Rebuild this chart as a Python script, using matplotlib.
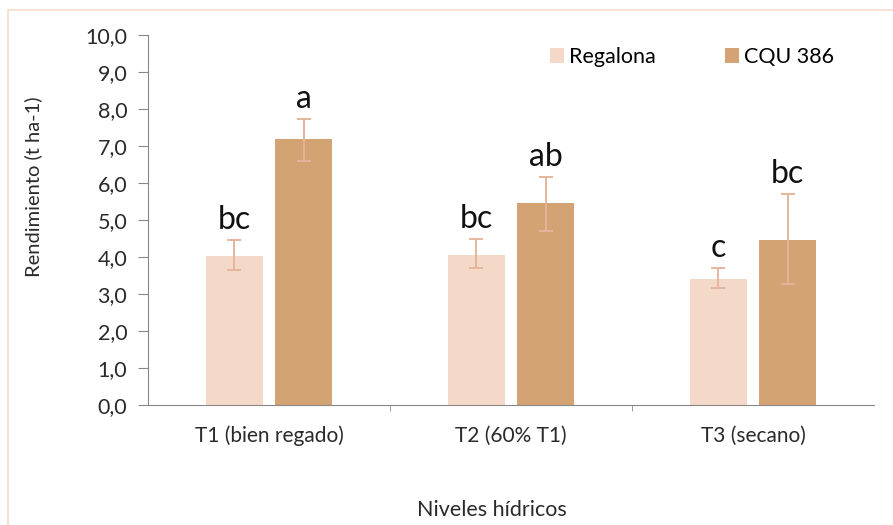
import numpy as np
import matplotlib.pyplot as plt
from matplotlib.patches import Rectangle

plt.rcParams['font.family'] = ['Lato', 'DejaVu Sans']

categorias = ['T1 (bien regado)', 'T2 (60% T1)', 'T3 (secano)']
regalona = [4.03, 4.05, 3.40]
regalona_err_sup = [0.43, 0.44, 0.30]
regalona_err_inf = [0.38, 0.35, 0.24]
cqu = [7.20, 5.46, 4.46]
cqu_err_sup = [0.53, 0.70, 1.24]
cqu_err_inf = [0.60, 0.76, 1.19]
letras_regalona = ['bc', 'bc', 'c']
letras_cqu = ['a', 'ab', 'bc']

col_reg = '#f5d9c8'
col_cqu = '#d4a373'
col_err = '#e6b49c'
col_txt = '#2a2a2a'

fig = plt.figure(figsize=(8.93, 5.25), dpi=100)
fig.patches.append(Rectangle((8 / 893, -0.1), 1.2, 1 - 10 / 525 + 0.1, transform=fig.transFigure,
                             fill=False, edgecolor='#f3dccb', linewidth=1.2))
ax = fig.add_axes([148 / 893, 1 - 405 / 525, 726 / 893, 370 / 525])

x = np.arange(len(categorias))
ancho = 0.235
desp = 0.143
ax.bar(x - desp, regalona, width=ancho, color=col_reg, label='Regalona')
ax.bar(x + desp, cqu, width=ancho, color=col_cqu, label='CQU 386')
ax.errorbar(x - desp, regalona, yerr=[regalona_err_inf, regalona_err_sup], fmt='none',
            ecolor=col_err, elinewidth=1.4, capsize=5, capthick=1.4)
ax.errorbar(x + desp, cqu, yerr=[cqu_err_inf, cqu_err_sup], fmt='none',
            ecolor=col_err, elinewidth=1.4, capsize=5, capthick=1.4)

for i in range(len(x)):
    ax.text(x[i] - desp, regalona[i] + regalona_err_sup[i] + 0.3, letras_regalona[i],
            ha='center', va='baseline', fontsize=23, color='#111111')
    ax.text(x[i] + desp, cqu[i] + cqu_err_sup[i] + 0.3, letras_cqu[i],
            ha='center', va='baseline', fontsize=23, color='#111111')

ax.set_xlim(-0.5, 2.5)
ax.set_ylim(0, 10)
ax.set_yticks(np.arange(0, 10.1, 1))
ax.set_yticklabels([f'{v:.1f}'.replace('.', ',') for v in np.arange(0, 10.1, 1)])
ax.set_xticks(x)
ax.set_xticklabels(categorias)
ax.set_xticks([0.5, 1.5], minor=True)
ax.tick_params(axis='x', which='major', length=0, labelsize=15, pad=15, labelcolor=col_txt)
ax.tick_params(axis='x', which='minor', length=4, color='#888888', direction='out')
ax.tick_params(axis='y', length=7, color='#888888', labelsize=15.5, pad=8, labelcolor=col_txt)

for s in ['top', 'right']:
    ax.spines[s].set_visible(False)
ax.spines['left'].set_color('#888888')
ax.spines['bottom'].set_color('#888888')

ax.set_ylabel('Rendimiento (t ha-1)', fontsize=14.5, color=col_txt)
ax.yaxis.set_label_coords(-0.146, 0.59)
fig.text(492 / 893, 1 - 510 / 525, 'Niveles hídricos', ha='center', va='center',
         fontsize=15.5, color=col_txt)

ax.legend(loc='center right', bbox_to_anchor=(0.945, 0.94), ncol=2, frameon=False,
          fontsize=15.5, handlelength=0.65, handleheight=0.65, handletextpad=0.25,
          columnspacing=3.2, borderaxespad=0, borderpad=0)

fig.savefig('out.png', dpi=100)
